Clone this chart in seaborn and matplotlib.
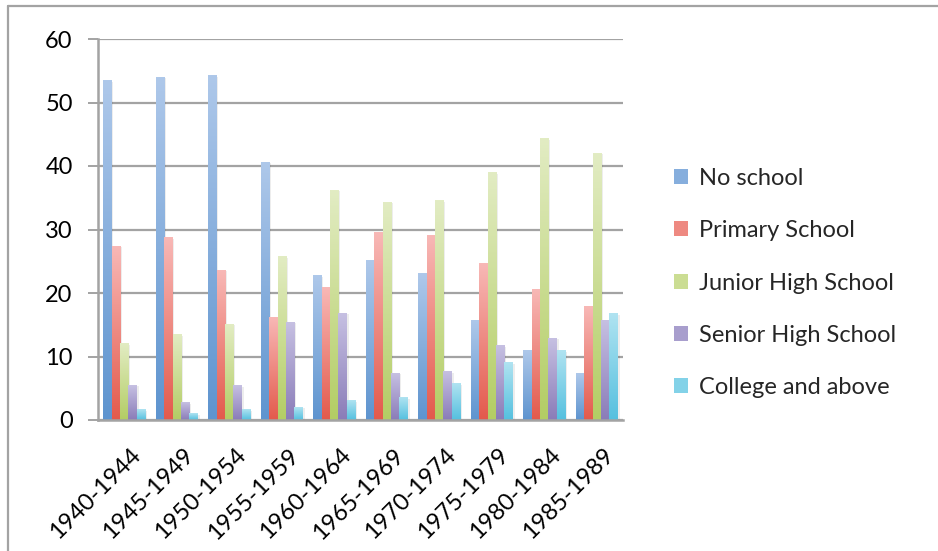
import numpy as np
import pandas as pd
import matplotlib
matplotlib.use("Agg")
import matplotlib.pyplot as plt
import matplotlib.transforms as mtransforms
import seaborn as sns
from matplotlib.patches import Patch, Rectangle
from matplotlib.lines import Line2D

# Birth cohorts and share (%) of each education level
cohorts = ["1940-1944", "1945-1949", "1950-1954", "1955-1959", "1960-1964",
           "1965-1969", "1970-1974", "1975-1979", "1980-1984", "1985-1989"]
levels = ["No school", "Primary School", "Junior High School",
          "Senior High School", "College and above"]
no_school = [53.4, 54.0, 54.2, 40.6, 22.7, 25.1, 23.0, 15.7, 11.0, 7.4]
primary = [27.4, 28.7, 23.6, 16.1, 20.9, 29.6, 29.0, 24.7, 20.5, 17.8]
junior_high = [12.0, 13.4, 15.1, 25.7, 36.2, 34.3, 34.5, 38.9, 44.3, 42.0]
senior_high = [5.5, 2.7, 5.4, 15.4, 16.8, 7.4, 7.6, 11.7, 12.9, 15.7]
college = [1.6, 1.0, 1.6, 2.0, 3.0, 3.5, 5.7, 9.0, 10.9, 16.7]
y_ticks = [0, 10, 20, 30, 40, 50, 60]

series = [no_school, primary, junior_high, senior_high, college]
df = pd.DataFrame({
    "cohort": np.repeat([cohorts], len(levels), axis=0).ravel(),
    "level": np.repeat(levels, len(cohorts)),
    "pct": np.concatenate(series),
})

# (top, bottom) gradient colours for each level
gradients = {
    "No school": ("#AEC8EA", "#5E94CF"),
    "Primary School": ("#F8B8B6", "#E35A4C"),
    "Junior High School": ("#E2ECC3", "#B3CD64"),
    "Senior High School": ("#C6C0E2", "#8A7CB8"),
    "College and above": ("#B0E3F1", "#55C0DF"),
}
mid = {k: tuple((np.array(matplotlib.colors.to_rgb(a)) +
                 np.array(matplotlib.colors.to_rgb(b))) / 2)
       for k, (a, b) in gradients.items()}

sns.set_theme(style="white")
plt.rcParams["font.family"] = ["Lato", "DejaVu Sans"]
FS = 17

W, H = 938, 551
fig = plt.figure(figsize=(W / 100, H / 100), dpi=100)
ax = fig.add_axes([98 / W, 1 - 420 / H, (623 - 98) / W, (420 - 39) / H])

sns.barplot(data=df, x="cohort", y="pct", hue="level", hue_order=levels,
            order=cohorts, palette=mid, width=0.8, gap=0, saturation=1,
            legend=False, ax=ax)

# Replace flat bars with vertical gradients and a soft drop shadow
for level, cont in zip(levels, ax.containers):
    top, bot = (np.array(matplotlib.colors.to_rgb(c)) for c in gradients[level])
    t = np.linspace(0, 1, 128)[:, None]
    grad = (bot * (1 - t) + top * t)[:, None, :]
    for bar in cont:
        x0, w, h = bar.get_x(), bar.get_width(), bar.get_height()
        bar.set_visible(False)
        ax.add_patch(Rectangle((x0 + 0.035, 0), w, h - 0.15, facecolor="black",
                               alpha=0.07, lw=0, zorder=1.5))
        ax.imshow(grad, extent=[x0, x0 + w, 0, h], origin="lower",
                  aspect="auto", interpolation="bilinear", zorder=2)

ax.set_xlim(-0.5, len(cohorts) - 0.5)
ax.set_ylim(0, 60)
ax.set_yticks(y_ticks)
ax.set_xlabel("")
ax.set_ylabel("")

grid_col = "#A3A3A3"
ax.yaxis.grid(True, color=grid_col, lw=1.6)
ax.xaxis.grid(False)
ax.set_axisbelow(True)
for side in ["top", "right"]:
    ax.spines[side].set_visible(False)
for side in ["left", "bottom"]:
    ax.spines[side].set_color(grid_col)
    ax.spines[side].set_linewidth(1.8)
ax.spines["bottom"].set_zorder(3)

ax.tick_params(axis="y", left=True, length=7.2, width=1.4, color=grid_col,
               pad=11, labelsize=FS, labelcolor="black")
ax.tick_params(axis="x", bottom=False, length=0, pad=9, labelsize=FS,
               labelcolor="black")
ax.set_xticks(range(len(cohorts)))
ax.set_xticklabels(cohorts, rotation=45, ha="right", rotation_mode="anchor")
shift = mtransforms.ScaledTranslation(6 / 100, -12 / 100, fig.dpi_scale_trans)
for lab in ax.get_xticklabels():
    lab.set_transform(lab.get_transform() + shift)

handles = [Patch(facecolor=mid[l], edgecolor="none") for l in levels]
fig.legend(handles, levels, loc="center left",
           bbox_to_anchor=(674 / W, 1 - 283 / H), frameon=False,
           fontsize=FS, handlelength=0.6, handleheight=0.6,
           handletextpad=0.45, labelspacing=1.33, borderpad=0, borderaxespad=0)

# Chart frame edges
fig.add_artist(Line2D([8 / W, 1], [1 - 6 / H, 1 - 6 / H], color=grid_col,
                      lw=1.6, transform=fig.transFigure))
fig.add_artist(Line2D([8 / W, 8 / W], [0, 1 - 6 / H], color=grid_col,
                      lw=1.6, transform=fig.transFigure))

fig.savefig("out.png", dpi=100, facecolor="white")
